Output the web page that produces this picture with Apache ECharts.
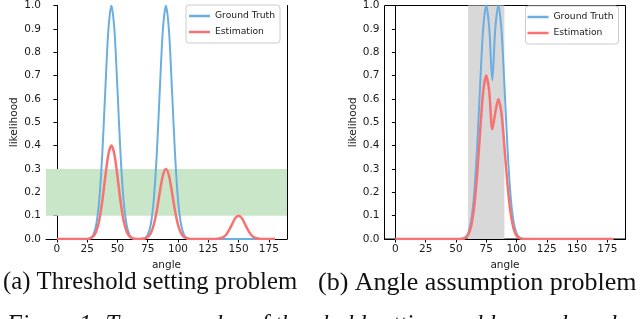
<!DOCTYPE html>
<html><head><meta charset="utf-8">
<script src="https://cdn.jsdelivr.net/npm/echarts@6/dist/echarts.min.js"></script>
<style>html,body{margin:0;padding:0;background:#fff;overflow:hidden}#c{width:640px;height:319px}</style>
</head><body><div id="c"></div>
<script>
const angles = [0,2.5,5,7.5,10,12.5,15,17.5,20,22.5,25,27.5,30,32.5,35,37.5,40,42.5,45,47.5,50,52.5,55,57.5,60,62.5,65,67.5,70,72.5,75,77.5,80,82.5,85,87.5,90,92.5,95,97.5,100,102.5,105,107.5,110,112.5,115,117.5,120,122.5,125,127.5,130,132.5,135,137.5,140,142.5,145,147.5,150,152.5,155,157.5,160,162.5,165,167.5,170,172.5,175,177.5,180];

const leftGroundTruth = [0,0,0,0,0,0,0,0,0,0,0,
  0.004,0.018,0.062,0.169,0.367,0.641,0.895,1.0,0.895,0.641,0.367,0.169,0.062,0.018,0.004,
  0,0,0,
  0.004,0.018,0.062,0.169,0.367,0.641,0.895,1.0,0.895,0.641,0.367,0.169,0.062,0.018,0.004,
  0,0,0,0,0,0,0,0,0,0,0,0,0,0,0,0,0,0,0,0,0,0,0,0,0,0,0,0,0];
const leftEstimation = [0,0,0,0,0,0,0,0,0,0,0,
  0.003,0.011,0.033,0.081,0.163,0.268,0.362,0.4,0.362,0.268,0.163,0.081,0.033,0.011,0.003,
  0.001,0,0.001,
  0.002,0.008,0.025,0.061,0.122,0.201,0.272,0.3,0.272,0.201,0.122,0.061,0.025,0.008,0.002,
  0,0,0,0,0,0,0,0,0,
  0.001,0.003,0.008,0.020,0.041,0.067,0.091,0.1,0.091,0.067,0.041,0.020,0.008,0.003,0.001,
  0,0,0,0,0];
const rightGroundTruth = [0,0,0,0,0,0,0,0,0,0,0,0,0,0,0,0,0,0,0,0,0,0,
  0.001,0.006,0.024,0.076,0.191,0.395,0.661,0.902,1.0,0.902,0.68,0.902,1.0,0.902,0.661,0.395,0.191,0.076,0.024,0.006,0.001,
  0,0,0,0,0,0,0,0,0,0,0,0,0,0,0,0,0,0,0,0,0,0,0,0,0,0,0,0,0,0];
const rightEstimation = [0,0,0,0,0,0,0,0,0,0,0,0,0,0,0,0,0,0,0,0,0,0,
  0.001,0.004,0.017,0.053,0.134,0.277,0.463,0.631,0.7,0.631,0.47,0.541,0.6,0.541,0.397,0.237,0.115,0.046,0.014,0.004,0.001,
  0,0,0,0,0,0,0,0,0,0,0,0,0,0,0,0,0,0,0,0,0,0,0,0,0,0,0,0,0,0];

const xTickLabels = [0,25,50,75,100,125,150,175];
const thresholdBand = [0.1, 0.3];
const angleBand = [60, 90];
const seriesNames = ['Ground Truth', 'Estimation'];
const captions = ['(a) Threshold setting problem', '(b) Angle assumption problem'];
const figureCaption = 'Figure 1: Two examples of threshold setting problem and angle assumption problem.';

const BLUE = '#6aaee2', RED = '#f87272';
const pairs = (ys) => angles.map((a, i) => [a, ys[i]]);
const axisFont = { fontFamily: 'DejaVu Sans', fontSize: 10.5, color: '#1a1a1a' };

function xAxis(grid) {
  return {
    type: 'value', gridIndex: grid, min: -9, max: 190,
    name: 'angle', nameLocation: 'middle', nameGap: 17, nameTextStyle: axisFont,
    axisLine: { show: true, onZero: false, lineStyle: { color: '#000', width: 1 } },
    axisTick: { show: true, length: 3.5, customValues: xTickLabels, lineStyle: { color: '#000' } },
    axisLabel: { ...axisFont, margin: 5, customValues: xTickLabels },
    splitLine: { show: false }
  };
}
function yAxis(grid) {
  return {
    type: 'value', gridIndex: grid, min: 0, max: 1, interval: 0.1,
    name: 'likelihood', nameLocation: 'middle', nameGap: 26, nameTextStyle: axisFont,
    axisLine: { show: true, lineStyle: { color: '#000', width: 1 } },
    axisTick: { show: true, length: 3.5, lineStyle: { color: '#000' } },
    axisLabel: { ...axisFont, margin: 5, formatter: v => v.toFixed(1) },
    splitLine: { show: false }
  };
}
function legend(left, top, padLeft) {
  return {
    data: seriesNames.map(n => ({ name: n, icon: 'rect' })),
    orient: 'vertical', left: left, top: top,
    itemWidth: 21, itemHeight: 2.5, itemGap: 0,
    padding: [3, 5, 3, padLeft],
    borderColor: '#cccccc', borderWidth: 1, borderRadius: 3,
    backgroundColor: 'rgba(255,255,255,0.8)',
    textStyle: { fontFamily: 'DejaVu Sans', fontSize: 9.2, color: '#1a1a1a', lineHeight: 16 },
    selectedMode: false
  };
}
function lineSeries(name, ys, color, width, xi, yi) {
  return {
    type: 'line', name: name, data: pairs(ys), xAxisIndex: xi, yAxisIndex: yi,
    showSymbol: false, symbol: 'none', smooth: 0.3, clip: true,
    lineStyle: { color: color, width: width }, itemStyle: { color: color }, z: 3
  };
}

const chart = echarts.init(document.getElementById('c'), null, { renderer: 'canvas' });
chart.setOption({
  animation: false,
  grid: [
    { left: 46, top: 5, width: 241, height: 234, show: false },
    { left: 384.5, top: 5, width: 241, height: 234, show: true, borderColor: '#000', borderWidth: 1, backgroundColor: 'transparent' }
  ],
  xAxis: [xAxis(0), xAxis(1)],
  yAxis: [yAxis(0), yAxis(1), {
    type: 'value', gridIndex: 0, position: 'right', min: 0, max: 1,
    axisLine: { show: true, lineStyle: { color: '#000', width: 1 } },
    axisTick: { show: false }, axisLabel: { show: false }, splitLine: { show: false }
  }],
  legend: [legend(186, 5, 3), legend(525.5, 6, 2)],
  series: [
    {
      type: 'line', name: 'band-a', data: [], xAxisIndex: 0, yAxisIndex: 0, silent: true, z: 1,
      markArea: { silent: true, itemStyle: { color: '#c9e6c9' },
        data: [[{ yAxis: thresholdBand[0] }, { yAxis: thresholdBand[1] }]] }
    },
    {
      type: 'line', name: 'band-b', data: [], xAxisIndex: 1, yAxisIndex: 1, silent: true, z: 1,
      markArea: { silent: true, itemStyle: { color: '#d8d8d8' },
        data: [[{ xAxis: angleBand[0] }, { xAxis: angleBand[1] }]] }
    },
    lineSeries(seriesNames[0], leftGroundTruth, BLUE, 2, 0, 0),
    lineSeries(seriesNames[1], leftEstimation, RED, 2.5, 0, 0),
    lineSeries(seriesNames[0], rightGroundTruth, BLUE, 2, 1, 1),
    lineSeries(seriesNames[1], rightEstimation, RED, 2.5, 1, 1)
  ],
  graphic: [
    { type: 'text', x: 3, y: 283, style: { text: captions[0], x: 0, y: 0, align: 'left', verticalAlign: 'middle', fontFamily: 'Liberation Serif', fontSize: 24.7, fill: '#111' } },
    { type: 'text', x: 318, y: 283, style: { text: captions[1], x: 0, y: 0, align: 'left', verticalAlign: 'middle', fontFamily: 'Liberation Serif', fontSize: 26, fill: '#111' } },
    { type: 'text', x: 7, y: 326, style: { text: figureCaption, x: 0, y: 0, align: 'left', verticalAlign: 'middle', fontFamily: 'Liberation Serif', fontStyle: 'italic', fontSize: 24.5, fill: '#111' } }
  ]
});
</script></body></html>
